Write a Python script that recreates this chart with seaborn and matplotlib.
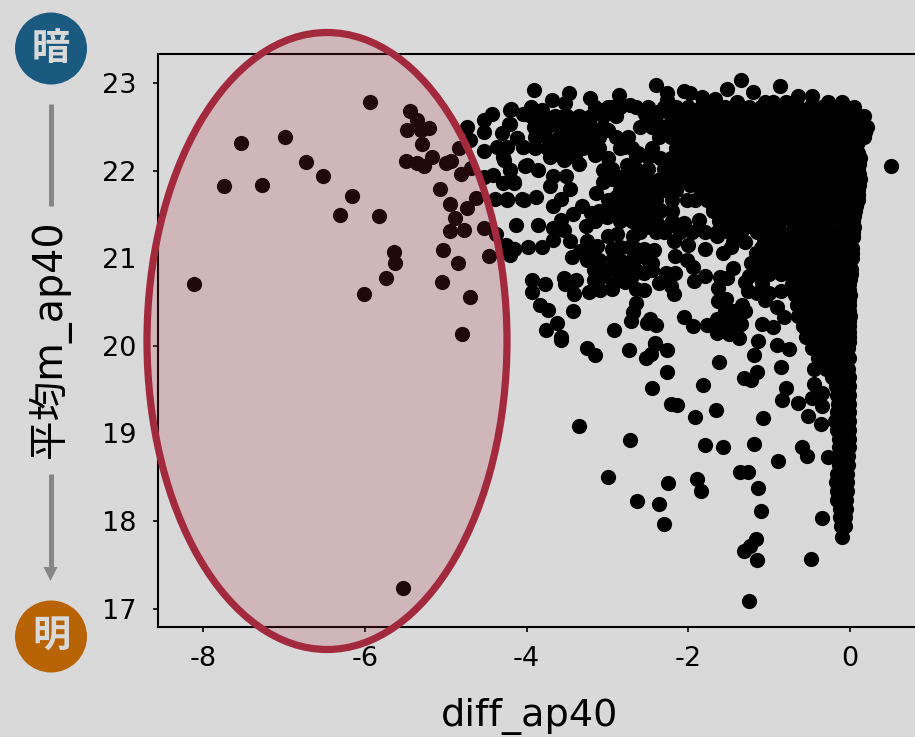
import matplotlib
matplotlib.use("Agg")
import matplotlib.pyplot as plt
import pandas as pd
import seaborn as sns
from matplotlib.patches import Circle, Ellipse, Polygon

FONTS = ['DejaVu Sans', 'Noto Sans CJK JP']
BG = '#d9d9d9'

# Sparse points left of the ellipse edge (inside the highlighted zone)
ellipse_diff = [-8.11,-7.74,-7.53,-7.27,-6.98,-6.73,-6.51,-6.30,-6.16,-6.01,-5.93,-5.82,-5.74,-5.64,-5.62,
                -5.49,-5.48,-5.44,-5.36,-5.36,-5.30,-5.29,-5.27,-5.20,-5.17,-5.07,-5.05,-5.03,-5.00,-4.95,
                -4.95,-4.93,-4.88,-4.85,-4.84,-4.81,-4.80,-4.77,-4.74,-4.70,-4.69,-4.62,-4.53,-4.47,-4.38,-5.53]
ellipse_mean = [20.71,21.82,22.31,21.84,22.38,22.10,21.94,21.49,21.71,20.59,22.78,21.48,20.77,21.07,20.94,
                22.11,22.46,22.68,22.58,22.09,22.46,22.30,22.05,22.49,22.16,21.79,20.73,21.09,22.09,21.62,
                21.31,22.11,21.46,20.95,22.26,21.96,20.13,21.32,21.57,20.56,22.03,21.69,21.34,21.02,21.27,17.24]

# Scattered points in the middle of the chart
mid_diff = [-4.74,-4.53,-4.43,-4.53,-4.70,-4.53,-4.37,-4.20,-4.22,-4.31,-4.12,-4.29,-4.20,-4.41,-4.53,-4.29,-4.16,-4.39,-4.24,-4.06,-4.02,-4.04,-4.04,
            -3.91,-3.68,-3.48,-3.53,-3.22,-2.86,-4.19,-3.95,-4.02,-3.81,-4.21,-3.91,-3.69,-3.54,-3.26,-3.09,-2.94,-2.72,-2.55,-2.39,-2.27,-2.27,-1.98,-1.83,-1.67,
            -4.12,-4.04,-3.79,-3.65,-3.71,-3.54,-3.35,-3.44,-3.32,-3.17,-3.15,-2.99,-2.99,-2.80,-2.62,-2.76,-4.24,-4.28,-4.00,-3.86,-4.20,-3.06,-3.67,-3.51,-3.05,-3.71,-3.46,-2.84,-3.14,-4.16,
            -4.24,-4.03,-3.88,-3.58,-3.67,-3.32,-3.43,-3.21,-3.01,-2.90,-2.76,-2.68,-2.51,-2.35,-2.06,-1.87,-4.13,-3.86,-3.58,-3.54,-3.67,-3.27,-2.99,-2.88,-2.68,-2.47,-2.27,-2.18,-2.00,-1.79,-1.57,-1.48,-1.65,
            -3.98,-3.81,-3.67,-4.20,-4.16,-4.26,-4.16,-4.22,-3.46,-3.25,-3.13,-3.44,-3.34,-3.25,-2.84,-2.74,-2.93,-2.60,-2.42,-2.45,-2.16,-2.02,-1.94,-1.80,-1.93,-2.16,-2.28,-2.36,-2.22,-2.18,
            -1.45,-1.61,-1.52,-1.63,-1.23,-1.30,-1.26,-1.05,-1.09,-0.86,-1.63,-1.54,-1.34,-1.38,-0.91,-0.82,-1.09,-0.96,-1.14,-0.91,-0.76,
            -3.93,-3.77,-3.93,-3.54,-3.52,-3.39,-3.41,-3.23,-3.09,-2.93,-2.78,-2.55,-3.17,-3.17,-3.01,-2.76,-2.55,
            -3.84,-3.73,-3.43,-3.63,-3.76,-3.57,-2.65,-2.68,-2.71,-2.92,-2.48,-2.51,-2.40,-2.06,-1.94,-1.77,-1.65,-1.52,-1.65,-1.50,-1.42,-1.37,-2.41,
            -3.57,-3.25,-3.16,-2.73,-2.41,-2.46,-2.53,-2.26,-2.27,-2.45,-1.82,-1.62,-1.19,-0.86,-1.15,-1.23,-1.31,-0.80,-0.84,-0.65,-0.45,-0.45,-0.47,-0.35,-0.35,-0.52,-0.36,
            -2.22,-2.14,-1.92,-1.66,-1.08,-3.35,-2.72,-1.80,-1.57,-1.19,-0.60,-0.53,-0.27,-0.89,-2.99,-1.36,-1.26,-1.14,-1.89,-1.84,-2.25,-2.63,-2.36,-2.30,-1.10,-0.35,-1.17,-1.24,-1.31,-1.15,-0.49,-1.25,
            -1.35,-0.87,-2.40,-2.05,-1.52,-1.20,0.50]
mid_mean = [22.50,22.58,22.65,22.44,22.35,22.22,22.27,22.69,22.53,22.43,22.37,22.16,22.01,21.95,21.93,21.86,21.86,21.68,21.68,21.68,22.05,22.65,22.27,
            22.92,22.81,22.89,22.77,22.83,22.86,22.70,22.73,22.65,22.69,22.53,22.50,22.58,22.62,22.60,22.69,22.73,22.75,22.67,22.67,22.88,22.81,22.88,22.84,22.82,
            22.37,22.27,22.39,22.35,22.16,22.12,22.08,22.35,22.46,22.31,22.18,22.14,22.46,22.27,22.20,22.06,22.27,22.12,22.06,22.01,22.01,22.01,21.94,21.94,21.87,21.82,21.79,21.93,21.74,21.87,
            21.66,21.66,21.70,21.68,21.60,21.59,21.50,21.51,21.47,21.70,21.47,21.74,21.66,21.55,21.40,21.44,21.38,21.38,21.44,21.32,21.34,21.37,21.25,21.28,21.25,21.36,21.36,21.19,21.15,21.11,21.06,21.13,21.25,
            21.13,21.13,21.21,21.04,21.11,21.15,21.11,21.06,21.19,21.19,21.14,21.01,21.08,20.98,21.13,21.13,21.00,21.02,21.09,20.94,21.02,20.98,20.90,20.80,20.74,20.83,20.83,20.72,20.68,20.59,
            20.89,20.79,20.77,20.66,20.94,20.73,20.62,20.52,20.72,20.63,20.51,20.53,20.47,20.37,20.44,20.33,20.25,20.21,20.06,20.01,19.96,
            20.75,20.71,20.61,20.77,20.71,20.75,20.59,20.61,20.64,20.70,20.73,20.64,20.75,20.87,20.87,20.89,20.83,
            20.46,20.41,20.40,20.26,20.18,20.10,20.49,20.39,20.28,20.18,20.31,20.26,20.24,20.33,20.22,20.24,20.30,20.31,20.14,20.13,20.20,20.09,20.03,
            20.07,19.98,19.89,19.95,20.02,19.91,19.86,19.95,19.70,19.52,19.55,19.82,19.89,19.76,19.70,19.61,19.63,19.52,19.38,19.35,19.73,19.56,19.40,19.46,19.31,19.20,19.11,
            19.33,19.32,19.19,19.27,19.17,19.08,18.93,18.87,18.85,18.88,18.84,18.74,18.73,18.68,18.50,18.56,18.56,18.38,18.48,18.34,18.43,18.23,18.19,17.97,18.11,18.03,17.79,17.72,17.66,17.56,17.57,17.09,
            23.03,22.97,22.98,22.91,22.93,22.90,22.05]

# Crowded patches left of the mass, read row by row: mean level -> diff values
crowded_rows = {
    22.72: [-3.15,-3.0,-2.85,-2.65,-2.5],
    22.62: [-3.95,-3.8,-3.65,-3.5,-3.35,-3.2,-3.05,-2.9,-2.4],
    22.50: [-3.75,-3.6,-3.45,-3.2,-3.05,-2.45],
    22.38: [-3.9,-3.6,-3.5,-3.35,-3.25,-3.1,-2.9,-2.75],
    22.26: [-3.9,-3.75,-3.6,-3.45,-3.3,-3.1,-2.85,-2.7],
    22.16: [-3.55,-3.4,-2.65,-2.5],
    22.02: [-2.95,-2.65],
    21.90: [-2.95,-2.75,-2.5,-2.35],
    21.78: [-2.85,-2.75],
    21.66: [-3.0,-2.85,-2.6,-2.4],
    21.54: [-3.1,-2.95,-2.8,-2.65,-2.5,-2.35],
    21.42: [-3.15,-2.85,-2.7,-2.4,-2.2],
    21.30: [-2.6,-2.4,-2.3,-2.1,-1.95,-1.8,-1.65,-1.5,-1.35],
    21.18: [-1.45,-1.3],
    21.10: [-3.2,-2.95,-2.65,-2.55],
    20.98: [-3.1,-2.85,-2.7,-2.5],
    20.87: [-3.15,-2.9,-2.65,-2.45],
    20.80: [-3.05,-2.85,-2.7,-1.25,-1.1],
    20.65: [-2.95,-2.65],
    20.60: [-1.15,-1.0],
    20.40: [-1.55,-1.45,-1.3],
    20.25: [-1.6,-1.35],
}

# Points that close the remaining gaps inside the solid mass
solid_rows = {
    22.56: [-2.0,-1.7,-1.4,-1.1,-0.8,-0.5,-0.2,0.14],
    22.44: [-2.15,-1.85,-1.55,-1.25,-0.95,-0.65,-0.35,-0.05,0.18],
    22.32: [-2.0,-1.7,-1.4,-1.1,-0.8,-0.5,-0.2,0.1],
    22.20: [-2.15,-1.85,-1.55,-1.25,-0.95,-0.65,-0.35,-0.05,0.1],
    22.08: [-2.0,-1.7,-1.4,-1.1,-0.8,-0.5,-0.2,0.11],
    21.96: [-2.15,-1.85,-1.55,-1.25,-0.95,-0.65,-0.35,-0.05,0.11],
    21.84: [-1.98,-1.7,-1.4,-1.1,-0.8,-0.5,-0.2,0.11],
    21.72: [-1.85,-1.55,-1.25,-0.95,-0.65,-0.35,-0.05,0.09],
    21.60: [-1.7,-1.4,-1.1,-0.8,-0.5,-0.2,0.07],
    21.48: [-1.55,-1.25,-0.95,-0.65,-0.35,-0.05,0.05],
    21.36: [-1.2,-1.0,-0.7,-0.4,-0.1,0.04],
    21.24: [-1.0,-0.75,-0.45,-0.15,0.03],
    21.12: [-1.1,-0.85,-0.55,-0.25,0.02],
    21.00: [-1.05,-0.75,-0.45,-0.15,0.02],
    20.88: [-0.95,-0.65,-0.35,-0.05,0.01],
    20.76: [-0.7,-0.4,-0.1,0.0],
    20.64: [-0.6,-0.3,-0.02],
    20.52: [-0.55,-0.25,-0.02],
    20.40: [-0.5,-0.2,-0.01],
    20.28: [-0.45,-0.15,-0.01],
    20.16: [-0.4,-0.15,-0.01],
    20.04: [-0.35,-0.1,-0.01],
    19.92: [-0.25,-0.05],
    19.80: [-0.2,-0.05],
}

# The dense mass, read row by row: mean level -> diff values
dense_rows = {
    22.85: [-0.64,-0.47],
    22.78: [-1.78,-1.4,-1.05,-0.95,-0.8,-0.27,-0.10],
    22.72: [-2.3,-2.15,-2.0,-1.85,-1.7,-1.55,-1.4,-1.25,-1.1,-0.95,-0.8,-0.65,-0.5,-0.35,-0.2,-0.05,0.04],
    22.62: [-2.52,-2.22,-2.07,-1.92,-1.77,-1.62,-1.47,-1.32,-1.17,-1.02,-0.87,-0.72,-0.57,-0.42,-0.27,-0.12,0.03,0.17],
    22.50: [-2.6,-2.3,-2.15,-2.0,-1.85,-1.7,-1.55,-1.4,-1.25,-1.1,-0.95,-0.8,-0.65,-0.5,-0.35,-0.2,-0.05,0.1,0.21],
    22.38: [-2.36,-2.22,-2.07,-1.92,-1.77,-1.62,-1.47,-1.32,-1.17,-1.02,-0.87,-0.72,-0.57,-0.42,-0.27,-0.12,0.03,0.17],
    22.26: [-2.45,-2.15,-2.0,-1.85,-1.7,-1.55,-1.4,-1.25,-1.1,-0.95,-0.8,-0.65,-0.5,-0.35,-0.2,-0.05,0.07],
    22.14: [-2.35,-2.22,-2.07,-1.92,-1.77,-1.62,-1.47,-1.32,-1.17,-1.02,-0.87,-0.72,-0.57,-0.42,-0.27,-0.12,0.03,0.12],
    22.02: [-2.5,-2.3,-2.15,-2.0,-1.85,-1.7,-1.55,-1.4,-1.25,-1.1,-0.95,-0.8,-0.65,-0.5,-0.35,-0.2,-0.05,0.10],
    21.90: [-2.62,-2.22,-2.07,-1.92,-1.77,-1.62,-1.47,-1.32,-1.17,-1.02,-0.87,-0.72,-0.57,-0.42,-0.27,-0.12,0.03,0.12],
    21.78: [-2.6,-2.45,-2.3,-2.15,-1.85,-1.7,-1.55,-1.4,-1.25,-1.1,-0.95,-0.8,-0.65,-0.5,-0.35,-0.2,-0.05,0.10],
    21.66: [-2.7,-2.2,-2.02,-1.92,-1.77,-1.62,-1.47,-1.32,-1.17,-1.02,-0.87,-0.72,-0.57,-0.42,-0.27,-0.12,0.03,0.10],
    21.54: [-2.6,-2.45,-2.2,-1.7,-1.55,-1.4,-1.25,-1.1,-0.95,-0.8,-0.65,-0.5,-0.35,-0.2,-0.05,0.06],
    21.42: [-2.55,-1.62,-1.47,-1.32,-1.17,-1.02,-0.87,-0.72,-0.57,-0.42,-0.27,-0.12,0.03],
    21.30: [-1.15,-1.0,-0.85,-0.7,-0.55,-0.4,-0.25,-0.1,0.03],
    21.18: [-1.07,-0.92,-0.77,-0.62,-0.47,-0.32,-0.17,-0.02],
    21.06: [-1.17,-1.0,-0.85,-0.7,-0.55,-0.4,-0.25,-0.1,0.02],
    20.94: [-1.08,-0.92,-0.77,-0.62,-0.47,-0.32,-0.17,-0.02],
    20.82: [-1.15,-1.0,-0.85,-0.7,-0.55,-0.4,-0.25,-0.1,0.01],
    20.70: [-0.72,-0.62,-0.47,-0.32,-0.17,-0.02],
    20.58: [-0.68,-0.55,-0.4,-0.25,-0.1,0.0],
    20.46: [-0.66,-0.47,-0.32,-0.17,-0.02],
    20.34: [-0.64,-0.55,-0.4,-0.25,-0.1,0.0],
    20.22: [-0.58,-0.47,-0.32,-0.17,-0.02],
    20.10: [-0.55,-0.4,-0.25,-0.1,-0.01],
    19.98: [-0.47,-0.32,-0.17,-0.03],
    19.86: [-0.40,-0.25,-0.1,-0.01],
    19.74: [-0.30,-0.17,-0.03],
    19.64: [-0.22,-0.1,-0.01],
    19.54: [-0.18,-0.07,-0.01],
    19.44: [-0.16,-0.06,-0.01],
    19.34: [-0.15,-0.07,-0.01],
    19.24: [-0.17,-0.08,-0.02],
    19.14: [-0.19,-0.08,-0.02],
    19.04: [-0.16,-0.08,-0.01],
    18.94: [-0.14,-0.08,-0.01],
    18.84: [-0.14,-0.08,-0.02],
    18.74: [-0.15,-0.08,-0.03],
    18.64: [-0.14,-0.08,-0.03],
    18.54: [-0.16,-0.08,-0.04],
    18.44: [-0.18,-0.10,-0.04],
    18.34: [-0.17,-0.10,-0.04],
    18.24: [-0.16,-0.10,-0.05],
    18.14: [-0.13,-0.05],
    18.04: [-0.13,-0.06],
    17.94: [-0.12,-0.07],
    17.82: [-0.10],
}

x_ticks = [-8, -6, -4, -2, 0]
y_ticks = [17, 18, 19, 20, 21, 22, 23]
x_label = 'diff_ap40'
y_label = '平均m_ap40'

all_rows = list(crowded_rows.items()) + list(solid_rows.items()) + list(dense_rows.items())
row_diff = [x for _, row in all_rows for x in row]
row_mean = [y for y, row in all_rows for _ in row]
df = pd.DataFrame({
    'diff_ap40': ellipse_diff + mid_diff + row_diff,
    'mean_ap40': ellipse_mean + mid_mean + row_mean,
})

plt.rcParams['font.family'] = FONTS
plt.rcParams['axes.unicode_minus'] = False
fig = plt.figure(figsize=(9.15, 7.37), dpi=100, facecolor=BG)
ax = fig.add_axes([158 / 915, (737 - 627) / 737, (915 - 158) / 915, (627 - 54) / 737], facecolor=BG)
sns.scatterplot(data=df, x='diff_ap40', y='mean_ap40', color='black', s=120, linewidth=0, ax=ax)
ax.set_xlim(-8.555, 0.80)
ax.set_ylim(16.79, 23.33)
ax.set_xticks(x_ticks)
ax.set_yticks(y_ticks)
ax.tick_params(labelsize=19.5, length=3.6, width=1.2, color='black')
ax.tick_params(axis='x', pad=10)
ax.tick_params(axis='y', pad=12)
for s in ax.spines.values():
    s.set_linewidth(1.5)
ax.spines['right'].set_visible(False)
ax.set_xlabel(x_label, fontsize=27.5)
ax.set_ylabel(y_label, fontsize=28.5)
ax.xaxis.set_label_coords((530 - 158) / 757, (627 - 698) / 573)
ax.yaxis.set_label_coords((71 - 158) / 757, (627 - 339) / 573)

# Overlay in image pixels for the annotation shapes
ov = fig.add_axes([0, 0, 1, 1], facecolor='none')
ov.set_xlim(0, 915)
ov.set_ylim(737, 0)
ov.axis('off')
ov.add_patch(Ellipse((327, 341), 360, 617, facecolor=(0xa3 / 255, 0x2a / 255, 0x3c / 255, 0.2),
                     edgecolor='#a32a3c', linewidth=5.2))
ov.add_patch(Circle((51, 48.5), 36, facecolor='#1a5a80', edgecolor='none'))
ov.add_patch(Circle((51, 636.5), 36, facecolor='#b86305', edgecolor='none'))
ov.text(51, 48.5, '暗', color=BG, fontsize=27.5, fontweight='bold', ha='center', va='center', family='Noto Sans CJK JP')
ov.text(51, 636.5, '明', color=BG, fontsize=27.5, fontweight='bold', ha='center', va='center', family='Noto Sans CJK JP')
ov.plot([50.5, 50.5], [104, 206], color='#868686', lw=3.6, solid_capstyle='butt')
ov.plot([50.5, 50.5], [474, 568], color='#868686', lw=3.6, solid_capstyle='butt')
ov.add_patch(Polygon([[43.5, 567], [57.5, 567], [50.5, 581]], closed=True, facecolor='#868686', edgecolor='none'))

fig.savefig('out.png', dpi=100, facecolor=BG)
